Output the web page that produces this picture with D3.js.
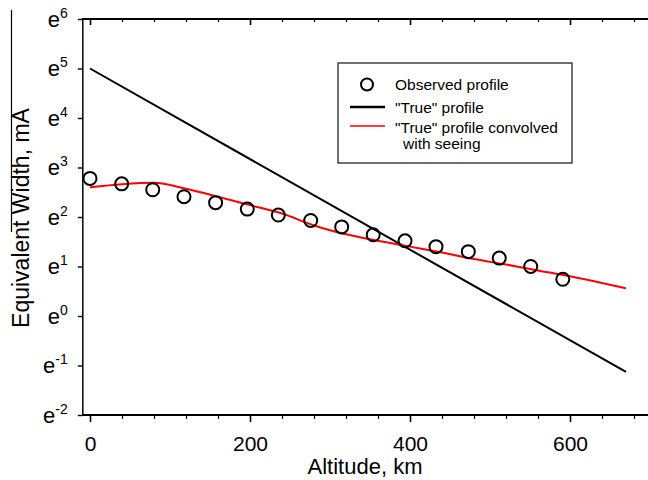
<!DOCTYPE html>
<html>
<head>
<meta charset="utf-8">
<script src="https://cdn.jsdelivr.net/npm/d3@7"></script>
<style>
  html, body { margin: 0; padding: 0; background: #fff; }
  svg { display: block; font-family: "Liberation Sans", Arial, sans-serif; }
</style>
</head>
<body>
<svg id="chart" width="648" height="480"></svg>
<script>
// Observed equivalent widths (mA) against altitude (km)
const obsAltitude = [0, 39.6, 78.4, 117.5, 157, 196.6, 235.4, 275.9, 314.6, 354, 393.8, 432.5, 472.9, 511.6, 550.9, 591];
const obsWidth = [16.12, 14.44, 12.81, 11.13, 9.87, 8.67, 7.69, 6.89, 6.05, 5.16, 4.57, 4.06, 3.67, 3.22, 2.72, 2.10];

// "True" exponential profile (end points of a straight line in log space)
const trueAltitude = [0, 670];
const trueWidth = [148.4, 0.323];

// "True" profile convolved with seeing
const convAltitude = [0, 40, 80, 120, 160, 200, 240, 280, 320, 360, 400, 440, 480, 520, 560, 600, 640, 670];
const convWidth = [13.46, 14.30, 14.73, 13.07, 11.13, 9.39, 7.92, 6.23, 5.21, 4.57, 4.06, 3.60, 3.16, 2.83, 2.51, 2.23, 1.95, 1.75];

// Axis ticks
const xMajorTicks = [0, 200, 400, 600];
const xMinorTicks = [40, 80, 120, 160, 240, 280, 320, 360, 440, 480, 520, 560, 640, 680];
const yPowers = [-2, -1, 0, 1, 2, 3, 4, 5, 6];

(function draw() {
  const svg = d3.select("#chart");

  const x = d3.scaleLinear().domain([-9, 700]).range([82.8, 650]);
  const y = d3.scaleLog().base(Math.E).domain([Math.exp(-2), Math.exp(6)]).range([415, 19]);

  const plotTop = y.range()[1], plotBottom = y.range()[0];
  const plotLeft = x.range()[0], plotRight = x.range()[1];

  // Bottom axis: major ticks with labels, minor ticks without
  const bottomMajor = svg.append("g")
    .attr("transform", `translate(0,${plotBottom})`)
    .call(d3.axisBottom(x).tickValues(xMajorTicks).tickSize(7).tickSizeOuter(0).tickPadding(14));
  bottomMajor.select(".domain").remove();
  bottomMajor.selectAll("text").attr("font-size", 21).attr("fill", "#000")
    .attr("font-family", "Liberation Sans, Arial, sans-serif");
  bottomMajor.selectAll("line").attr("stroke-width", 1.6);

  const bottomMinor = svg.append("g")
    .attr("transform", `translate(0,${plotBottom})`)
    .call(d3.axisBottom(x).tickValues(xMinorTicks).tickSize(4).tickFormat(""));
  bottomMinor.select(".domain").remove();
  bottomMinor.selectAll("line").attr("stroke-width", 1.2);

  // Top edge: ticks pointing into the plot
  const topMajor = svg.append("g")
    .attr("transform", `translate(0,${plotTop})`)
    .call(d3.axisBottom(x).tickValues(xMajorTicks).tickSize(6).tickFormat(""));
  topMajor.select(".domain").remove();
  topMajor.selectAll("line").attr("stroke-width", 1.6);
  const topMinor = svg.append("g")
    .attr("transform", `translate(0,${plotTop})`)
    .call(d3.axisBottom(x).tickValues(xMinorTicks).tickSize(3).tickFormat(""));
  topMinor.select(".domain").remove();
  topMinor.selectAll("line").attr("stroke-width", 1.2);

  // Left axis with e^n labels
  const leftAxis = svg.append("g")
    .attr("transform", `translate(${plotLeft},0)`)
    .call(d3.axisLeft(y).tickValues(yPowers.map(Math.exp)).tickSize(5).tickFormat(""));
  leftAxis.select(".domain").remove();
  leftAxis.selectAll("line").attr("stroke-width", 1.4);
  leftAxis.selectAll(".tick").each(function(d) {
    const p = Math.round(Math.log(d));
    const t = d3.select(this).append("text")
      .attr("x", -15).attr("y", 7)
      .attr("text-anchor", "end")
      .attr("fill", "#000")
      .attr("font-size", 22)
      .attr("font-family", "Liberation Sans, Arial, sans-serif");
    t.append("tspan").text("e");
    t.append("tspan").attr("font-size", 14).attr("dy", -9).text(p);
  });

  // Frame lines
  svg.append("line").attr("x1", plotLeft).attr("x2", plotRight).attr("y1", plotBottom).attr("y2", plotBottom)
    .attr("stroke", "#000").attr("stroke-width", 2.2);
  svg.append("line").attr("x1", plotLeft - 1).attr("x2", plotRight).attr("y1", plotTop).attr("y2", plotTop)
    .attr("stroke", "#000").attr("stroke-width", 2.2);
  svg.append("line").attr("x1", plotLeft).attr("x2", plotLeft).attr("y1", plotTop).attr("y2", plotBottom)
    .attr("stroke", "#000").attr("stroke-width", 1.5);

  // Axis titles
  svg.append("text")
    .attr("x", (x(0) + x(600)) / 2 + 35).attr("y", 474)
    .attr("text-anchor", "middle").attr("font-size", 22).attr("fill", "#000")
    .text("Altitude, km");
  svg.append("text")
    .attr("transform", "translate(29,218) rotate(-90)")
    .attr("text-anchor", "middle").attr("font-size", 23).attr("fill", "#000")
    .text("Equivalent Width, mA");
  svg.append("line").attr("x1", 11.5).attr("x2", 11.5).attr("y1", 10).attr("y2", 232)
    .attr("stroke", "#000").attr("stroke-width", 1.2);

  // Data layers
  const straight = d3.line().x(d => x(d[0])).y(d => y(d[1]));
  const smooth = d3.line().x(d => x(d[0])).y(d => y(d[1])).curve(d3.curveMonotoneX);

  svg.append("path")
    .datum(d3.zip(trueAltitude, trueWidth))
    .attr("d", straight)
    .attr("fill", "none").attr("stroke", "#000").attr("stroke-width", 2);

  svg.append("path")
    .datum(d3.zip(convAltitude, convWidth))
    .attr("d", smooth)
    .attr("fill", "none").attr("stroke", "#ff0000").attr("stroke-width", 2);

  svg.append("g").selectAll("circle")
    .data(d3.zip(obsAltitude, obsWidth))
    .join("circle")
    .attr("cx", d => x(d[0])).attr("cy", d => y(d[1])).attr("r", 6.5)
    .attr("fill", "none").attr("stroke", "#000").attr("stroke-width", 2);

  // Legend
  const legend = svg.append("g");
  legend.append("rect").attr("x", 338).attr("y", 63).attr("width", 234).attr("height", 100)
    .attr("fill", "#fff").attr("stroke", "#333").attr("stroke-width", 1.4);
  legend.append("circle").attr("cx", 367).attr("cy", 84.5).attr("r", 6)
    .attr("fill", "none").attr("stroke", "#000").attr("stroke-width", 2);
  legend.append("line").attr("x1", 350).attr("x2", 385).attr("y1", 107).attr("y2", 107)
    .attr("stroke", "#000").attr("stroke-width", 2.5);
  legend.append("line").attr("x1", 350).attr("x2", 385).attr("y1", 126).attr("y2", 126)
    .attr("stroke", "#ff0000").attr("stroke-width", 1.5);
  const legendText = [
    ["Observed profile", 395, 89.5],
    ["\"True\" profile", 395, 112.5],
    ["\"True\" profile convolved", 395, 132.5],
    ["with seeing", 403, 148.5]
  ];
  legend.selectAll("text.lt").data(legendText).join("text")
    .attr("class", "lt")
    .attr("x", d => d[1]).attr("y", d => d[2])
    .attr("font-size", 15.5).attr("fill", "#000")
    .text(d => d[0]);
})();
</script>
</body>
</html>
